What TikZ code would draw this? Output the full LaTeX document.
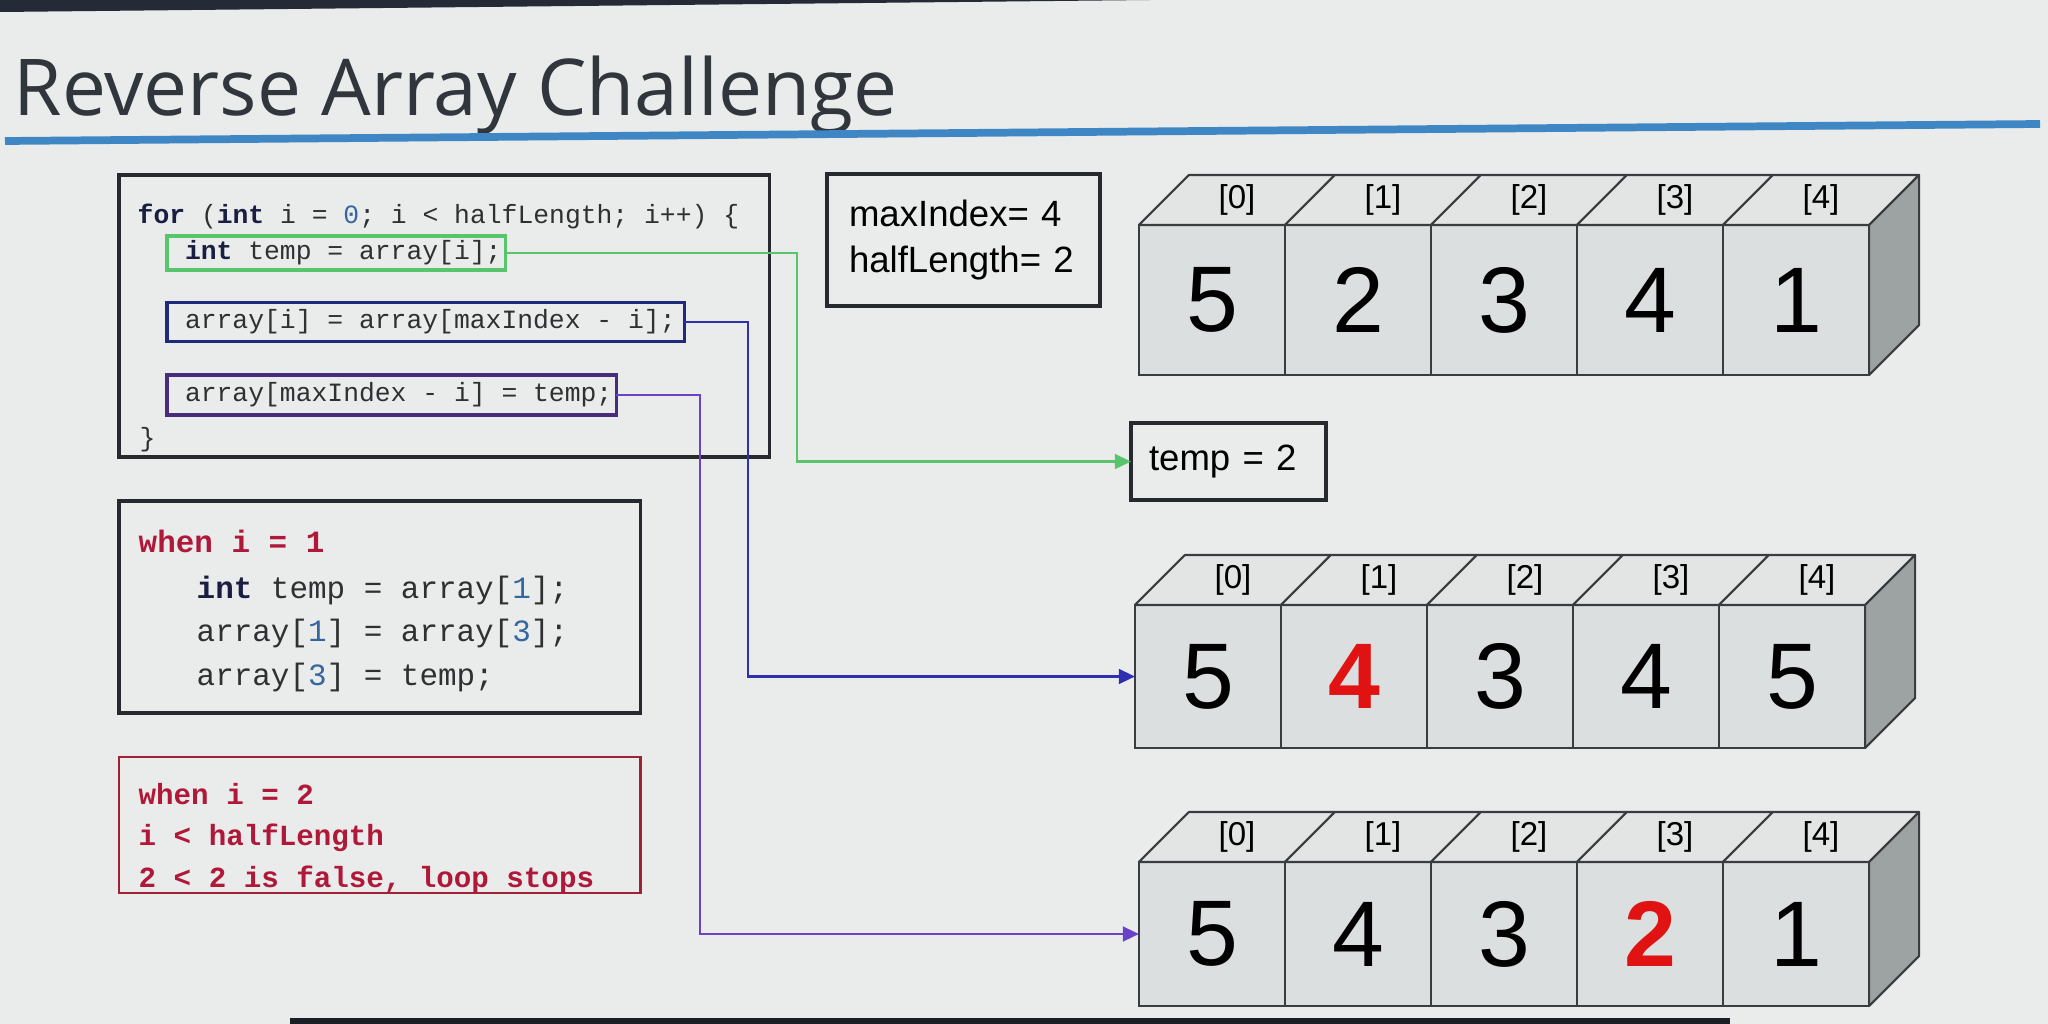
\documentclass[tikz,border=0pt]{standalone}
\usepackage{fontspec}
\setmainfont{Liberation Sans}
\newfontfamily\titlefont{Open Sans}
\newfontfamily\monofont{Liberation Mono}
\usetikzlibrary{arrows.meta}

\definecolor{bg}{HTML}{E9ECEB}
\definecolor{bezel}{HTML}{242A36}
\definecolor{bezelbar}{HTML}{1C2026}
\definecolor{titlecol}{HTML}{30363C}
\definecolor{rulecol}{HTML}{3F86C4}
\definecolor{ink}{HTML}{262A2E}
\definecolor{codeink}{HTML}{2E3032}
\definecolor{kw}{HTML}{1A1E40}
\definecolor{numblue}{HTML}{3566A0}
\definecolor{grn}{HTML}{58C46C}
\definecolor{navy}{HTML}{202A7A}
\definecolor{navyline}{HTML}{2E30B0}
\definecolor{purp}{HTML}{4A2D7A}
\definecolor{purpline}{HTML}{6A42C8}
\definecolor{redtxt}{HTML}{B0183A}
\definecolor{redbox}{HTML}{A02234}
\definecolor{hired}{HTML}{E01212}
\definecolor{front}{HTML}{DCDFDF}
\definecolor{topf}{HTML}{E3E5E5}
\definecolor{sidef}{HTML}{9DA3A3}
\definecolor{edge}{HTML}{3A3D3F}

\newcommand\hot{\bfseries\color{hired}}
% statement text, left-padded inside a box of fixed width
\newcommand\stmttext[2]{\makebox[#1][l]{\hspace*{0.18cm}#2}}

% one 3-D array: #1 name, #2 left x, #3 top y, #4 height, #5 values
\newcommand\drawarray[5]{%
  \foreach \v [count=\k from 0] in {#5} {
    \node[cell, minimum height=#4*0.01cm] (#1c\k) at ({#2+\k*146+73},{#3+#4/2}) {\v};
    \draw[topface] (#1c\k.north west) -- ++(50,-50) -- ++(146,0) -- (#1c\k.north east) -- cycle;
    \node[idx] (#1t\k) at ([shift={(25,-25)}]#1c\k.north) {[\k]};
  }
  \draw[sideface] (#1c4.north east) -- ++(50,-50) -- ++(0,#4) -- (#1c4.south east) -- cycle;
}

\begin{document}
\begin{tikzpicture}[x=0.01cm,y=-0.01cm,
  frame/.style={draw=ink, line width=1pt, inner sep=0, outer sep=0, anchor=north west},
  codeline/.style={anchor=base west, inner sep=0, text=codeink},
  stmt/.style={anchor=west, inner sep=0, outer sep=0, line width=0.9pt,
               text=codeink, font=\monofont\fontsize{7.5}{9}\selectfont},
  varbox/.style={draw=ink, line width=1pt, outer sep=0, align=left, text=black,
                 font=\fontsize{10.4}{13.1}\selectfont},
  cell/.style={draw=edge, fill=front, line width=0.6pt, inner sep=0, outer sep=0,
               minimum width=1.46cm, font=\fontsize{26.5}{30}\selectfont},
  topface/.style={draw=edge, fill=topf, line width=0.6pt, line join=round},
  sideface/.style={draw=edge, fill=sidef, line width=0.6pt, line join=round},
  idx/.style={inner sep=0, font=\fontsize{9.4}{11}\selectfont},
  conn/.style={line width=0.75pt, -{Triangle[length=4.6pt,width=4.2pt]}},
]
\useasboundingbox (0,0) rectangle (2048,1024);
\fill[bg] (0,0) rectangle (2048,1024);

% screen edges
\fill[bezel] (0,0) -- (1150,0) -- (0,12) -- cycle;
\fill[bezelbar] (290,1018) rectangle (1730,1024);

% heading
\node[anchor=base west, inner sep=0, text=titlecol,
      font=\titlefont\fontsize{22.3}{26}\selectfont] (title) at (13,115) {Reverse Array Challenge};
\draw[rulecol, line width=2.2pt] (5,141) -- (2040,124);

% loop code
\node[frame, minimum width=6.5cm, minimum height=2.82cm] (loopbox) at (119,175) {};
\node[codeline, font=\monofont\fontsize{7.5}{9}\selectfont] (forline) at (137,223)
  {\textcolor{kw}{\bfseries for} (\textcolor{kw}{\bfseries int} i = \textcolor{numblue}{0}; i < halfLength; i++) \{};
\node[stmt, draw=grn, minimum height=0.34cm] (stmtA) at (167,253)
  {\stmttext{3.38cm}{\textcolor{kw}{\bfseries int} temp = array[i];}};
\node[stmt, draw=navy, minimum height=0.39cm] (stmtB) at (167,322)
  {\stmttext{5.17cm}{array[i] = array[maxIndex - i];}};
\node[stmt, draw=purp, minimum height=0.40cm] (stmtC) at (167,395)
  {\stmttext{4.49cm}{array[maxIndex - i] = temp;}};
\node[codeline, font=\monofont\fontsize{7.5}{9}\selectfont] (close) at (139,446) {\}};

% worked step for i = 1
\node[frame, minimum width=5.21cm, minimum height=2.12cm] (stepbox) at (119,501) {};
\begin{scope}[every node/.style={codeline, font=\monofont\fontsize{8.8}{10}\selectfont}]
  \node[text=redtxt, font=\monofont\bfseries\fontsize{8.8}{10}\selectfont] (w1) at (138,552) {when i = 1};
  \node (s1) at (196,598) {\textcolor{kw}{\bfseries int} temp = array[\textcolor{numblue}{1}];};
  \node (s2) at (196,641) {array[\textcolor{numblue}{1}] = array[\textcolor{numblue}{3}];};
  \node (s3) at (196,685) {array[\textcolor{numblue}{3}] = temp;};
\end{scope}

% loop exit
\node[frame, draw=redbox, line width=0.8pt, minimum width=5.21cm, minimum height=1.36cm] (stopbox) at (119,757) {};
\begin{scope}[every node/.style={codeline, text=redtxt, font=\monofont\bfseries\fontsize{8.3}{10}\selectfont}]
  \node (r1) at (138,804) {when i = 2};
  \node (r2) at (138,845) {i < halfLength};
  \node (r3) at (138,887) {2 < 2 is false, loop stops};
\end{scope}

% variables
\node[varbox, anchor=north west, minimum width=2.73cm, minimum height=1.32cm,
      inner xsep=0.22cm, text width=2.29cm] (vars) at (827,174) {maxIndex= 4\\halfLength= 2};
\node[varbox, anchor=north west, minimum width=1.95cm, minimum height=0.77cm,
      inner xsep=0.18cm, text width=1.59cm] (tempbox) at (1131,423) {temp = 2};

% arrays
\drawarray{a}{1139}{225}{150}{5,2,3,4,1}
\drawarray{b}{1135}{605}{143}{5,{\hot 4},3,4,5}
\drawarray{c}{1139}{862}{144}{5,4,3,{\hot 2},1}

% connectors
\coordinate (gbend) at (797,253);
\coordinate (bbend) at (748,322);
\coordinate (pbend) at (700,395);
\draw[conn, grn] (stmtA.east) -- (gbend) |- (tempbox.west);
\draw[conn, navyline] (stmtB.east) -- (bbend) |- (bc0.west);
\draw[conn, purpline] (stmtC.east) -- (pbend) |- (cc0.west);
\end{tikzpicture}
\end{document}
